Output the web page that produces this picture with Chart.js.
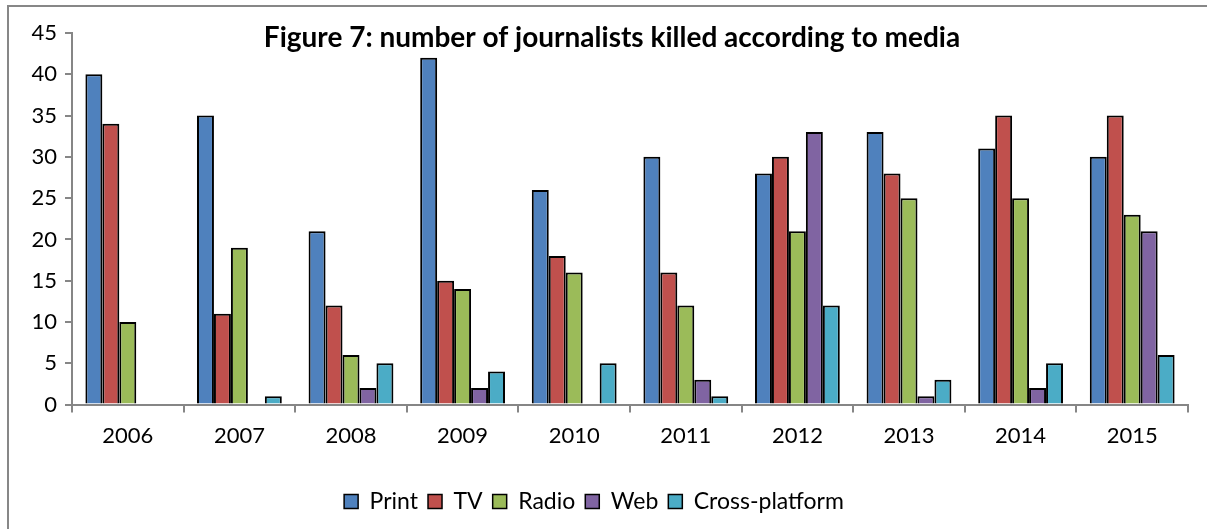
<!DOCTYPE html>
<html>
<head>
<meta charset="utf-8">
<script src="https://cdn.jsdelivr.net/npm/chart.js@4"></script>
<style>
  body { margin: 0; background: #fff; }
  #frame { position: absolute; left: 7px; top: 5px; width: 1200px; height: 524px;
           border-top: 2px solid #878787; border-left: 2px solid #878787; }
  #wrap { position: absolute; left: 0; top: 0; width: 1207px; height: 529px; }
</style>
</head>
<body>
<div id="frame"></div>
<div id="wrap"><canvas id="chart" width="1207" height="529"></canvas></div>
<script>
const years = ["2006", "2007", "2008", "2009", "2010", "2011", "2012", "2013", "2014", "2015"];
const printKilled = [40, 35, 21, 42, 26, 30, 28, 33, 31, 30];
const tvKilled    = [34, 11, 12, 15, 18, 16, 30, 28, 35, 35];
const radioKilled = [10, 19, 6, 14, 16, 12, 21, 25, 25, 23];
const webKilled   = [0, 0, 2, 2, 0, 3, 33, 1, 2, 21];
const crossKilled = [0, 1, 5, 4, 5, 1, 12, 3, 5, 6];
const titleText = "Figure 7: number of journalists killed according to media";

const FONT = "Lato, 'Noto Sans', sans-serif";

// title sits inside the plot area like in the original
const titlePlugin = {
  id: "innerTitle",
  afterDraw(chart) {
    const ctx = chart.ctx;
    ctx.save();
    ctx.font = "bold 28px " + FONT;
    ctx.fillStyle = "#000";
    ctx.textAlign = "center";
    ctx.textBaseline = "middle";
    ctx.fillText(titleText, 612, 38);
    ctx.restore();
  }
};

function ds(label, data, color) {
  return {
    label: label,
    data: data,
    backgroundColor: color,
    borderColor: "#000",
    borderWidth: 2,
    categoryPercentage: 0.76,
    barPercentage: 1.0
  };
}

new Chart(document.getElementById("chart"), {
  type: "bar",
  data: {
    labels: years,
    datasets: [
      ds("Print", printKilled, "#4F81BD"),
      ds("TV", tvKilled, "#C0504D"),
      ds("Radio", radioKilled, "#9BBB59"),
      ds("Web", webKilled, "#8064A2"),
      ds("Cross-platform", crossKilled, "#4BACC6")
    ]
  },
  options: {
    responsive: false,
    animation: false,
    layout: { padding: { top: 33, right: 19, bottom: 6, left: 0 } },
    plugins: {
      title: { display: false },
      tooltip: { enabled: false },
      legend: {
        position: "bottom",
        labels: {
          font: { family: FONT, size: 23 },
          color: "#000",
          boxWidth: 14,
          boxHeight: 14,
          padding: 10,
          generateLabels(chart) {
            return chart.data.datasets.map((d, i) => ({
              text: d.label,
              fillStyle: d.backgroundColor,
              strokeStyle: "#000",
              lineWidth: 1.5,
              datasetIndex: i
            }));
          }
        }
      }
    },
    scales: {
      x: {
        afterFit(scale) { scale.height += 21; },
        grid: { display: true, drawOnChartArea: false, offset: true, color: "#868686", lineWidth: 2, tickLength: 8 },
        border: { color: "#868686", width: 2 },
        ticks: { font: { family: FONT, size: 22 }, color: "#000", padding: 10 }
      },
      y: {
        min: 0,
        max: 45,
        afterFit(scale) { scale.width = 72; },
        grid: { drawOnChartArea: false, color: "#868686", lineWidth: 2, tickLength: 7 },
        border: { color: "#868686", width: 2 },
        ticks: { stepSize: 5, font: { family: FONT, size: 22 }, color: "#000", padding: 8 }
      }
    }
  },
  plugins: [titlePlugin]
});
</script>
</body>
</html>
